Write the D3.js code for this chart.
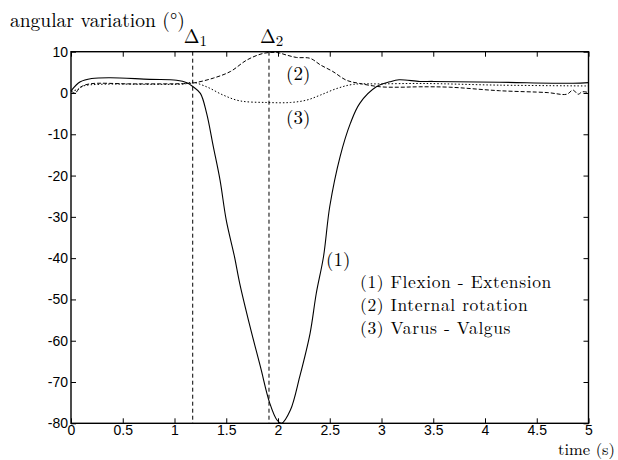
<!DOCTYPE html>
<html>
<head>
<meta charset="utf-8">
<script src="https://cdn.jsdelivr.net/npm/d3@7"></script>
<style>
  body { margin: 0; background: #fff; }
  .tick text { font-family: "Liberation Sans", Arial, sans-serif; font-size: 14px; }
</style>
</head>
<body>
<svg id="chart" width="618" height="460"></svg>
<script>
// flexion - extension (solid)
let flexT = [0, 0.09, 0.2, 0.38, 0.76, 1.02, 1.12, 1.18, 1.25, 1.31, 1.375, 1.44, 1.5, 1.58, 1.63, 1.73, 1.83, 1.92, 1.99, 2.035, 2.12, 2.21, 2.31, 2.37, 2.44, 2.5, 2.6, 2.7, 2.79, 2.95, 3.08, 3.17, 3.37, 3.5, 4.14, 4.85, 5];
let flexV = [0.5, 2.7, 3.5, 3.7, 3.3, 3.1, 2.5, 1.5, -0.1, -4.9, -13, -21.1, -30.8, -39.7, -46.1, -56.6, -66.3, -75.1, -79.2, -80, -76.8, -68.7, -58.2, -48.5, -39.6, -27.5, -15.4, -7.3, -2.5, 1.5, 2.7, 3.2, 2.8, 2.8, 2.6, 2.35, 2.5];

// internal rotation (dashed)
let rotT = [0, 0.04, 0.09, 0.18, 0.6, 1.12, 1.2, 1.375, 1.54, 1.7, 1.86, 1.99, 2.08, 2.18, 2.31, 2.41, 2.53, 2.66, 2.79, 2.99, 3.18, 3.37, 3.66, 4.14, 4.6, 4.79, 4.85, 4.9, 4.94, 5];
let rotV = [0.5, 0, 1.4, 2.2, 2.2, 2.3, 2.5, 3.6, 5.2, 8.0, 9.6, 9.8, 9.2, 8.6, 8.4, 6.8, 5.2, 3.1, 2.3, 1.5, 1.4, 1.5, 1.4, 0.55, 0.1, -0.3, 0.7, -0.3, 0.3, 0.1];

// varus - valgus (dotted)
let varT = [0, 0.06, 0.12, 0.28, 0.8, 1.1, 1.17, 1.31, 1.47, 1.63, 1.89, 2.12, 2.28, 2.41, 2.57, 2.73, 2.99, 3.4, 4.14, 5];
let varV = [0.5, 0.8, 1.7, 2.1, 2.1, 2.2, 2.6, 1.5, -0.5, -1.9, -2.3, -2.3, -1.7, -0.5, 1.1, 2.1, 2.2, 2.3, 1.9, 1.7];

let xTicks = [0, 0.5, 1, 1.5, 2, 2.5, 3, 3.5, 4, 4.5, 5];
let yTicks = [-80, -70, -60, -50, -40, -30, -20, -10, 0, 10];
let deltaT = [1.176, 1.913];
let legend = ["(1) Flexion - Extension", "(2) Internal rotation", "(3) Varus - Valgus"];

let serif = "'Latin Modern Roman', 'CMU Serif', 'Liberation Serif', 'DejaVu Serif', 'Noto Serif', 'FreeSerif', 'Nimbus Roman', 'Tinos', Times, serif";
let mLeft = 71, mRight = 588.5, mTop = 51.7, mBottom = 423.3;
let svg = d3.select("#chart");
let x = d3.scaleLinear().domain([0, 5]).range([mLeft, mRight]);
let y = d3.scaleLinear().domain([-80, 10]).range([mBottom, mTop]);

// axes with inward ticks on all four sides
svg.append("g").attr("transform", "translate(0," + mBottom + ")")
  .call(d3.axisBottom(x).tickValues(xTicks).tickSize(-5).tickPadding(2).tickFormat(d3.format("")));
svg.append("g").attr("transform", "translate(0," + mTop + ")")
  .call(d3.axisTop(x).tickValues(xTicks).tickSize(-5).tickFormat(""));
svg.append("g").attr("transform", "translate(" + mLeft + ",0)")
  .call(d3.axisLeft(y).tickValues(yTicks).tickSize(-5).tickPadding(3).tickFormat(d => d < 0 ? "-" + Math.abs(d) : d));
svg.append("g").attr("transform", "translate(" + mRight + ",0)")
  .call(d3.axisRight(y).tickValues(yTicks).tickSize(-5).tickFormat(""));
svg.selectAll(".domain").remove();
svg.selectAll(".tick line").attr("stroke", "#000");
svg.selectAll(".tick text").attr("fill", "#000");

svg.append("rect").attr("x", mLeft).attr("y", mTop).attr("width", mRight - mLeft).attr("height", mBottom - mTop)
  .attr("fill", "none").attr("stroke", "#000").attr("stroke-width", 1.4);

function label(tx, ty, str, size) {
  return svg.append("text").attr("x", tx).attr("y", ty)
    .style("font-family", serif).style("font-size", (size || 19) + "px").attr("fill", "#000").text(str);
}

// delta markers
deltaT.forEach(function(t, i) {
  svg.append("line").attr("x1", x(t)).attr("x2", x(t)).attr("y1", mTop).attr("y2", mBottom)
    .attr("stroke", "#000").attr("stroke-width", 1).attr("stroke-dasharray", "4,3");
  let lab = label(x(t) - 9, 43, null);
  lab.append("tspan").text("Δ");
  lab.append("tspan").attr("dy", 3).style("font-size", "15px").text(i + 1);
});

let line = d3.line().x(d => x(d[0])).y(d => y(d[1])).curve(d3.curveCatmullRom);
function draw(ts, vs, dash, w) {
  svg.append("path").datum(d3.zip(ts, vs)).attr("d", line)
    .attr("fill", "none").attr("stroke", "#000").attr("stroke-width", w)
    .attr("stroke-dasharray", dash);
}
draw(varT, varV, "1.5,2", 1);
draw(rotT, rotV, "4,2", 1);
draw(flexT, flexV, null, 1.1);

// text
label(10, 27, "angular variation (°)", 19.5);
label(615, 455, "time (s)", 16.5).attr("text-anchor", "end");
label(326, 266, "(1)");
label(286, 80, "(2)");
label(286, 124, "(3)");
legend.forEach((d, i) => label(360, 288 + i * 23, d, 17.5).style("letter-spacing", "0.6px"));
</script>
</body>
</html>
